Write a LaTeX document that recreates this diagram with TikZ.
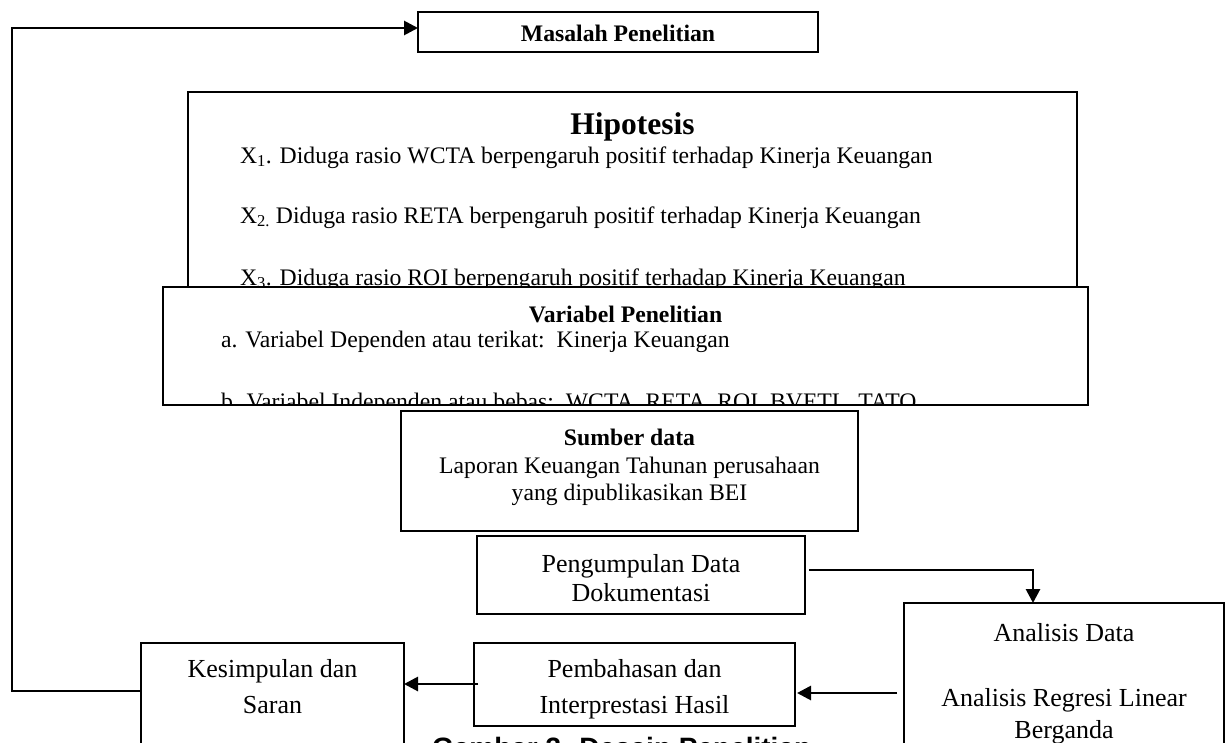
\documentclass[tikz,border=0pt]{standalone}
\usepackage{fontspec}
\setmainfont{Liberation Serif}
\newfontfamily\capfont{Liberation Sans}
\usetikzlibrary{arrows.meta}
\newcommand\fsBody{\fontsize{23.7}{27}\selectfont}
\newcommand\fsBig{\fontsize{26}{30}\selectfont}
\newcommand\fsHead{\fontsize{31.5}{36}\selectfont}
\newcommand\fsCap{\fontsize{28}{32}\selectfont}
\tikzset{
  box/.style={draw=black, line width=1.8pt, fill=white, inner sep=0pt, outer sep=0pt, anchor=north west},
  txt/.style={inner sep=0pt, outer sep=0pt, anchor=base, font=\fsBody},
  ltxt/.style={txt, anchor=base west},
  btxt/.style={txt, font=\fsBig},
  link/.style={line width=2.8pt},
  arr/.style={link, -{Triangle[length=14pt,width=14pt]}},
}
\begin{document}
\begin{tikzpicture}[x=1pt,y=-1pt]
\clip (0,0) rectangle (1230,742);
\fill[white] (0,0) rectangle (1230,742);

% Masalah Penelitian
\node[box, minimum width=400pt, minimum height=40pt] (mas) at (418,12) {};
\node[txt, font=\fsBody\bfseries] (mast) at (618,41) {Masalah Penelitian};

% Hipotesis
\node[box, minimum width=889pt, minimum height=215pt] (hip) at (188,92) {};
\node[txt, font=\fsHead\bfseries] (hipt) at (632.5,134) {Hipotesis};
\node[ltxt] (h1) at (240,163) {X\textsubscript{1}. Diduga rasio WCTA berpengaruh positif terhadap Kinerja Keuangan};
\node[ltxt] (h2) at (240,223) {X\textsubscript{2.} Diduga rasio RETA berpengaruh positif terhadap Kinerja Keuangan};
\node[ltxt] (h3) at (240,285) {X\textsubscript{3}. Diduga rasio ROI berpengaruh positif terhadap Kinerja Keuangan};

% Variabel Penelitian
\node[box, minimum width=925pt, minimum height=118pt] (var) at (163,287) {};
\node[txt, font=\fsBody\bfseries] (vart) at (625.5,322) {Variabel Penelitian};
\node[ltxt] (va) at (221,347) {a. Variabel Dependen atau terikat:\ \ Kinerja Keuangan};
\begin{scope}
\clip (163,287) rectangle (1088,403);
\node[ltxt] (vb) at (221,409) {b. Variabel Independen atau bebas:\ \ WCTA, RETA, ROI, BVETL, TATO};
\end{scope}

% Sumber data
\node[box, minimum width=457pt, minimum height=120pt] (sum) at (401,411) {};
\node[txt, font=\fsBody\bfseries] (sumt) at (629.5,445) {Sumber data};
\node[txt] (sum1) at (629.5,473) {Laporan Keuangan Tahunan perusahaan};
\node[txt] (sum2) at (629.5,500) {yang dipublikasikan BEI};

% Pengumpulan Data
\node[box, minimum width=328pt, minimum height=78pt] (pen) at (477,536) {};
\node[btxt] (pen1) at (641,572) {Pengumpulan Data};
\node[btxt] (pen2) at (641,601) {Dokumentasi};

% Analisis Data
\node[box, minimum width=320pt, minimum height=200pt] (ana) at (904,603) {};
\node[btxt] (ana1) at (1064,641) {Analisis Data};
\node[btxt] (ana2) at (1064,706) {Analisis Regresi Linear};
\node[btxt] (ana3) at (1064,738) {Berganda};

% Pembahasan
\node[box, minimum width=321pt, minimum height=83pt] (pem) at (474,643) {};
\node[btxt] (pem1) at (634.5,677) {Pembahasan dan};
\node[btxt] (pem2) at (634.5,713) {Interprestasi Hasil};

% Kesimpulan
\node[box, minimum width=263pt, minimum height=160pt] (kes) at (141,643) {};
\node[btxt] (kes1) at (272.5,677) {Kesimpulan dan};
\node[btxt] (kes2) at (272.5,713) {Saran};

% Caption (cut off at the lower edge, as in the reference)
\node[txt, anchor=base west, font=\capfont\fsCap\bfseries] (cap) at (432,757) {Gambar 3. Desain Penelitian};

% connectors
\coordinate (fbtop) at (12,28);
\coordinate (fbbot) at (12,691);
\draw[arr] (kes.west |- fbbot) -- (fbbot) -- (fbtop) -- (mas.west |- fbtop);

\coordinate (turn) at (1033,570);
\draw[arr] ([xshift=4pt]pen.east |- turn) -- (turn) -- (turn |- ana.north);

\coordinate (y693) at (0,693);
\draw[arr] ([xshift=-7pt]ana.west |- y693) -- ([xshift=2pt]pem.east |- y693);

\coordinate (y684) at (0,684);
\draw[arr] ([xshift=4pt]pem.west |- y684) -- (kes.east |- y684);
\end{tikzpicture}
\end{document}
